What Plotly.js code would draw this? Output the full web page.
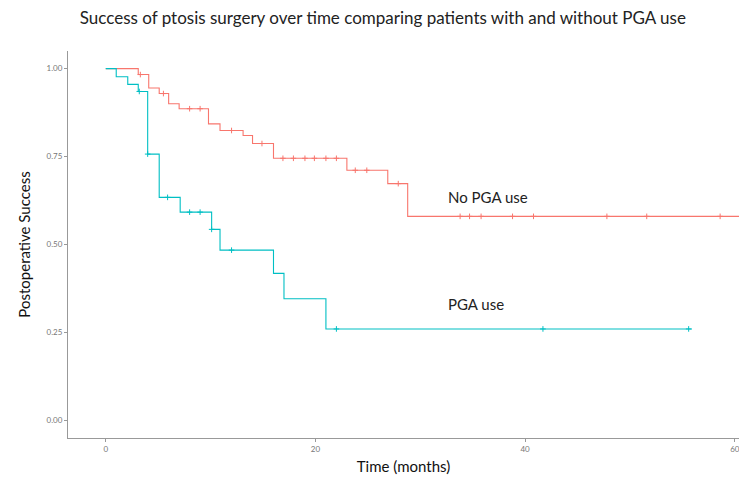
<!DOCTYPE html>
<html>
<head>
<meta charset="utf-8">
<script src="https://cdn.plot.ly/plotly-3.0.1.min.js"></script>
<style>html,body{margin:0;padding:0;background:#fff;}#chart{width:739px;height:484px;}</style>
</head>
<body>
<div id="chart"></div>
<script>
// Kaplan-Meier step data
const noPgaTimes = [0, 3.1, 4.1, 5.1, 6.0, 7.0, 9.8, 10.9, 13.1, 14.0, 16.0, 23.0, 26.9, 28.8];
const noPgaSurv  = [1.0, 0.983, 0.945, 0.929, 0.90, 0.886, 0.843, 0.824, 0.81, 0.787, 0.745, 0.711, 0.673, 0.58];
const noPgaEnd = 72;
const noPgaCensor = [3.3, 5.5, 8.0, 9.0, 12.0, 14.9, 16.9, 17.9, 19.0, 19.9, 21.0, 22.0, 23.8, 24.9, 27.9, 33.8, 34.7, 35.8, 38.8, 40.8, 47.8, 51.6, 58.6];

const pgaTimes = [0, 1.0, 2.1, 3.1, 4.0, 5.1, 7.1, 10.1, 10.9, 16.0, 17.0, 21.0];
const pgaSurv  = [1.0, 0.977, 0.955, 0.935, 0.757, 0.634, 0.592, 0.543, 0.484, 0.418, 0.346, 0.26];
const pgaEnd = 55.9;
const pgaCensor = [3.2, 4.0, 5.9, 8.0, 9.0, 10.1, 12.0, 22.0, 41.7, 55.6];

const xTicks = [0, 20, 40, 60];
const yTicks = [0, 0.25, 0.5, 0.75, 1.0];

const groupLabels = ["No PGA use", "PGA use"];
const labelPos = [[32.5, 0.636], [32.5, 0.33]];

const redC = '#F8766D', tealC = '#00BFC4';

function survAt(times, surv, t) {
  let s = surv[0];
  for (let i = 0; i < times.length; i++) { if (times[i] <= t) s = surv[i]; }
  return s;
}
function stepTrace(times, surv, end, color) {
  return { x: times.concat([end]), y: surv.concat([surv[surv.length-1]]), mode: 'lines',
    line: { shape: 'hv', color: color, width: 1.1 }, hoverinfo: 'skip', showlegend: false };
}
function censorTrace(times, surv, cens, color) {
  return { x: cens, y: cens.map(t => survAt(times, surv, t)), mode: 'markers',
    marker: { symbol: 'cross-thin-open', size: 4, line: { color: color, width: 1 }, color: color },
    hoverinfo: 'skip', showlegend: false };
}

const data = [
  stepTrace(noPgaTimes, noPgaSurv, noPgaEnd, redC),
  stepTrace(pgaTimes, pgaSurv, pgaEnd, tealC),
  censorTrace(noPgaTimes, noPgaSurv, noPgaCensor, redC),
  censorTrace(pgaTimes, pgaSurv, pgaCensor, tealC)
];

const fontFam = 'Lato, "Open Sans", sans-serif';
const layout = {
  width: 739, height: 484,
  margin: { l: 68, r: 0, t: 51, b: 46 },
  paper_bgcolor: '#fff', plot_bgcolor: '#fff',
  font: { family: fontFam, color: '#222' },
  title: { text: 'Success of ptosis surgery over time comparing patients with and without PGA use',
    font: { size: 17, color: '#222', family: fontFam }, x: 0.518, xanchor: 'center', y: 0.963, yanchor: 'middle' },
  xaxis: {
    range: [-3.6, 60.4], tickvals: xTicks, ticktext: xTicks.map(String), ticklabeloverflow: 'allow',
    showgrid: false, zeroline: false, showline: true, linecolor: '#999', linewidth: 1,
    ticks: 'outside', ticklen: 3, tickcolor: '#999', tickfont: { size: 8, color: '#777' },
    title: { text: 'Time (months)', font: { size: 15, color: '#111' }, standoff: 8 }, automargin: false
  },
  yaxis: {
    range: [-0.05, 1.05], tickvals: yTicks, tickformat: '.2f',
    showgrid: false, zeroline: false, showline: true, linecolor: '#999', linewidth: 1,
    ticks: 'outside', ticklen: 3, tickcolor: '#999', tickfont: { size: 8, color: '#777' },
    title: { text: 'Postoperative Success', font: { size: 15, color: '#111' }, standoff: 12 }, automargin: false
  },
  annotations: groupLabels.map((t, i) => ({ x: labelPos[i][0], y: labelPos[i][1], text: t, showarrow: false,
    xanchor: 'left', yanchor: 'middle', font: { size: 15, color: '#222', family: fontFam } }))
};

Plotly.newPlot('chart', data, layout, { displayModeBar: false, staticPlot: true });
</script>
</body>
</html>
